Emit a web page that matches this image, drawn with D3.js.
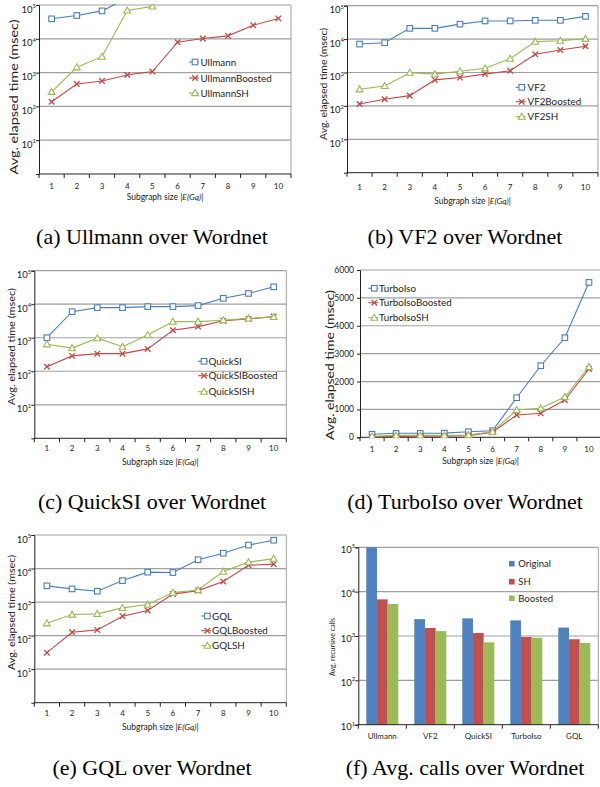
<!DOCTYPE html>
<html>
<head>
<meta charset="utf-8">
<script src="https://cdn.jsdelivr.net/npm/d3@7"></script>
<style>
body { margin: 0; background: #fff; }
text { font-family: Lato, "Open Sans", sans-serif; fill: #222; }
.cap { font-family: "Liberation Serif", serif; fill: #000; }
</style>
</head>
<body>
<script>
var W = 600, H = 787;

// x categories of the line panels
var sizes = [1, 2, 3, 4, 5, 6, 7, 8, 9, 10];

// (a) Ullmann over Wordnet (msec)
var ullmann        = [39000, 49000, 67000, 160000, null, null, null, null, null, null];
var ullmannBoosted = [137, 460, 565, 850, 1070, 7900, 10200, 12200, 25300, 40000];
var ullmannSH      = [270, 1440, 2960, 69000, 91000, null, null, null, null, null];

// (b) VF2 over Wordnet
var vf2        = [7100, 7800, 21000, 21000, 28000, 35000, 35000, 36500, 36500, 48000];
var vf2Boosted = [114, 158, 203, 600, 705, 895, 1130, 3500, 4700, 6100];
var vf2SH      = [315, 395, 985, 895, 1090, 1340, 2600, 8400, 8950, 10200];

// (c) QuickSI over Wordnet
var quickSI        = [1000, 6000, 7900, 7900, 8500, 8500, 9100, 15000, 21000, 33000];
var quickSIBoosted = [137, 287, 335, 335, 465, 1670, 2150, 3230, 3650, 4270];
var quickSISH      = [640, 490, 970, 540, 1210, 3030, 3030, 3330, 3770, 4170];

// (d) TurboIso over Wordnet (linear axis)
var turboIso        = [108, 143, 143, 150, 200, 237, 1420, 2566, 3570, 5555];
var turboIsoBoosted = [20, 30, 35, 40, 60, 180, 800, 860, 1337, 2450];
var turboIsoSH      = [40, 70, 70, 70, 82, 200, 980, 1040, 1445, 2530];

// (e) GQL over Wordnet
var gql        = [3050, 2470, 2110, 4370, 7800, 7600, 18300, 28600, 50000, 70000];
var gqlBoosted = [31, 126, 148, 380, 560, 1730, 2200, 4100, 12600, 13500];
var gqlSH      = [234, 425, 445, 670, 845, 1920, 2290, 8100, 15500, 19800];

// (f) Avg. recursive calls
var algorithms    = ["Ullmann", "VF2", "QuickSI", "TurboIso", "GQL"];
var callsOriginal = [100000, 2400, 2500, 2250, 1550];
var callsSH       = [6700, 1520, 1170, 950, 845];
var callsBoosted  = [5300, 1290, 720, 915, 695];
var barSeries     = ["Original", "SH", "Boosted"];

var logTicks = [10, 100, 1000, 10000, 100000];
var linTicks = [0, 1000, 2000, 3000, 4000, 5000, 6000];

var blue = "#4a7ebb", red = "#be4b48", green = "#98b954";
var gridColor = "#a0a0a0";

var svg = d3.select("body").append("svg")
  .attr("width", W)
  .attr("height", H);

var clipId = 0;

function marker(g, type, color) {
  if (type == "square") {
    g.append("rect").attr("x", -2.8).attr("y", -2.8).attr("width", 5.6).attr("height", 5.6)
      .attr("fill", "#fff").attr("stroke", color).attr("stroke-width", 1.1);
  } else if (type == "cross") {
    g.append("path").attr("d", "M-2.8,-2.8L2.8,2.8M-2.8,2.8L2.8,-2.8")
      .attr("stroke", color).attr("stroke-width", 1.3).attr("fill", "none");
  } else {
    g.append("path").attr("d", "M0,-3.4L3.4,2.6L-3.4,2.6Z")
      .attr("fill", "#fff").attr("stroke", color).attr("stroke-width", 1.1);
  }
}

function logLabel(g, xr, yv, v, base, fs) {
  var t = g.append("text")
    .attr("x", xr).attr("y", yv + base)
    .attr("text-anchor", "end")
    .attr("font-size", fs)
    .text("10");
  t.append("tspan").attr("dy", -4.5).attr("font-size", 6)
    .text(Math.round(Math.log10(v)));
}

function yTitle(g, x, cy, label, fs, len) {
  g.append("text")
    .attr("transform", "translate(" + x + "," + cy + ") rotate(-90)")
    .attr("text-anchor", "middle")
    .attr("dominant-baseline", "middle")
    .attr("font-size", fs)
    .attr("textLength", len)
    .attr("lengthAdjust", "spacingAndGlyphs")
    .text(label);
}

function caption(cx, y, label) {
  svg.append("text").attr("class", "cap")
    .attr("x", cx).attr("y", y)
    .attr("text-anchor", "middle")
    .attr("font-size", 22)
    .text(label);
}

function linePanel(p) {
  var g = svg.append("g");
  var x = d3.scaleBand().domain(sizes).range([p.x0, p.x0 + p.w]);
  var y = p.log
    ? d3.scaleLog().domain([1, 100000]).range([p.y0 + p.h, p.y0])
    : d3.scaleLinear().domain([0, 6000]).range([p.y0 + p.h, p.y0]);
  var ticks = p.log ? logTicks : linTicks;

  // gridlines
  g.selectAll(".grid").data(ticks.filter(function(d){ return d > 0; }))
    .enter().append("line")
    .attr("x1", p.x0).attr("x2", p.x0 + p.w)
    .attr("y1", function(d){ return y(d); })
    .attr("y2", function(d){ return y(d); })
    .attr("stroke", gridColor).attr("stroke-width", 1.2);
  g.append("line")
    .attr("x1", p.x0 + p.w).attr("x2", p.x0 + p.w)
    .attr("y1", p.y0).attr("y2", p.y0 + p.h)
    .attr("stroke", gridColor).attr("stroke-width", 1);

  // y axis
  g.append("g")
    .attr("transform", "translate(" + p.x0 + ",0)")
    .call(d3.axisLeft(y).tickValues(ticks).tickSize(3).tickFormat(""))
    .call(function(a){ a.select(".domain").attr("stroke", "#222"); a.selectAll(".tick line").attr("stroke", "#222"); });

  if (p.log) {
    logTicks.forEach(function(v){ logLabel(g, p.x0 - 3, y(v), v, 7.5, 9.5); });
  } else {
    g.selectAll(".ylab").data(linTicks).enter().append("text")
      .attr("x", p.x0 - 6).attr("y", function(d){ return y(d) + 3; })
      .attr("text-anchor", "end").attr("font-size", 8.5)
      .text(function(d){ return d; });
  }

  // x axis
  var xa = g.append("g").attr("transform", "translate(0," + (p.y0 + p.h) + ")");
  xa.append("line").attr("x1", p.x0).attr("x2", p.x0 + p.w).attr("stroke", "#222");
  xa.selectAll(".tk").data(sizes.concat(["end"])).enter().append("line")
    .attr("x1", function(d){ return d == "end" ? p.x0 + p.w : x(d); })
    .attr("x2", function(d){ return d == "end" ? p.x0 + p.w : x(d); })
    .attr("y1", 0).attr("y2", 4).attr("stroke", "#222");
  g.selectAll(".xlab").data(sizes).enter().append("text")
    .attr("x", function(d){ return x(d) + x.bandwidth() / 2; })
    .attr("y", p.tickY + 3)
    .attr("text-anchor", "middle").attr("font-size", 8)
    .text(function(d){ return d; });

  var xt = g.append("text")
    .attr("x", p.x0 + p.w / 2).attr("y", p.titleY + 3)
    .attr("text-anchor", "middle").attr("font-size", 8.5);
  xt.append("tspan").text("Subgraph size |");
  xt.append("tspan").attr("font-style", "italic").text("E(Gq)");
  xt.append("tspan").text("|");

  yTitle(g, p.yt[0], p.yt[1], "Avg. elapsed time (msec)", p.yt[2], p.yt[3]);

  // series
  clipId++;
  svg.append("clipPath").attr("id", "clip" + clipId).append("rect")
    .attr("x", p.x0 - 4).attr("y", p.y0 - 1).attr("width", p.w + 8).attr("height", p.h + 2);
  var plot = g.append("g").attr("clip-path", "url(#clip" + clipId + ")");

  var line = d3.line()
    .defined(function(d){ return d != null; })
    .x(function(d, i){ return x(sizes[i]) + x.bandwidth() / 2; })
    .y(function(d){ return y(d); });

  p.series.forEach(function(s){
    plot.append("path").datum(s.values)
      .attr("d", line).attr("fill", "none")
      .attr("stroke", s.color).attr("stroke-width", 1.1);
  });
  p.series.forEach(function(s){
    s.values.forEach(function(v, i){
      if (v == null) return;
      var m = plot.append("g")
        .attr("transform", "translate(" + (x(sizes[i]) + x.bandwidth() / 2) + "," + y(v) + ")");
      marker(m, s.marker, s.color);
    });
  });

  // legend
  p.series.forEach(function(s, i){
    var ly = p.legend.rows[i];
    g.append("line")
      .attr("x1", p.legend.mx - 6).attr("x2", p.legend.mx + 4)
      .attr("y1", ly).attr("y2", ly)
      .attr("stroke", s.color).attr("stroke-width", 1.1);
    marker(g.append("g").attr("transform", "translate(" + p.legend.mx + "," + ly + ")"), s.marker, s.color);
    g.append("text")
      .attr("x", p.legend.tx).attr("y", ly + 3.5)
      .attr("font-size", 9.8)
      .text(s.name);
  });
}

function series3(names, a, b, c) {
  return [
    { name: names[0], values: a, color: blue, marker: "square" },
    { name: names[1], values: b, color: red, marker: "cross" },
    { name: names[2], values: c, color: green, marker: "tri" }
  ];
}

linePanel({
  x0: 39, y0: 5, w: 252, h: 169, log: true, tickY: 185.7, titleY: 197.3,
  yt: [15, 97, 11, 155],
  series: series3(["Ullmann", "UllmannBoosted", "UllmannSH"], ullmann, ullmannBoosted, ullmannSH),
  legend: { mx: 195, tx: 200.5, rows: [62, 78, 93] }
});
linePanel({
  x0: 347, y0: 5.7, w: 251, h: 167, log: true, tickY: 186.7, titleY: 201,
  yt: [325, 84, 9, 112],
  series: series3(["VF2", "VF2Boosted", "VF2SH"], vf2, vf2Boosted, vf2SH),
  legend: { mx: 521.7, tx: 527.5, rows: [87.3, 101.7, 116.7] }
});
linePanel({
  x0: 34.3, y0: 270.7, w: 252, h: 167.6, log: true, tickY: 447.7, titleY: 461.7,
  yt: [12.7, 346.7, 9, 117],
  series: series3(["QuickSI", "QuickSIBoosted", "QuickSISH"], quickSI, quickSIBoosted, quickSISH),
  legend: { mx: 204, tx: 208.5, rows: [361.3, 375.7, 391.7] }
});
linePanel({
  x0: 360, y0: 270, w: 241, h: 167.3, log: false, tickY: 449, titleY: 461,
  yt: [331.7, 365, 10.5, 150],
  series: series3(["TurboIso", "TurboIsoBoosted", "TurboIsoSH"], turboIso, turboIsoBoosted, turboIsoSH),
  legend: { mx: 374.3, tx: 379, rows: [288.3, 302.7, 317.7] }
});
linePanel({
  x0: 34.3, y0: 535, w: 252, h: 167.7, log: true, tickY: 713.3, titleY: 726.7,
  yt: [12.7, 612.5, 9, 115],
  series: series3(["GQL", "GQLBoosted", "GQLSH"], gql, gqlBoosted, gqlSH),
  legend: { mx: 207.3, tx: 212, rows: [616, 630.7, 645.7] }
});

// (f) bar chart
(function(){
  var x0 = 358.3, y0 = 547.3, w = 240, h = 177.4;
  var g = svg.append("g");
  var x = d3.scaleBand().domain(algorithms).range([x0, x0 + w])
    .paddingInner(1 / 3).paddingOuter(1 / 6);
  var xs = d3.scaleBand().domain(barSeries).range([0, x.bandwidth()]);
  var y = d3.scaleLog().domain([10, 100000]).range([y0 + h, y0]);
  var values = { Original: callsOriginal, SH: callsSH, Boosted: callsBoosted };
  var colors = { Original: "#4f81bd", SH: "#c0504d", Boosted: "#9bbb59" };

  g.selectAll(".grid").data(logTicks.slice(1)).enter().append("line")
    .attr("x1", x0).attr("x2", x0 + w)
    .attr("y1", function(d){ return y(d); }).attr("y2", function(d){ return y(d); })
    .attr("stroke", gridColor).attr("stroke-width", 1.2);
  g.append("line").attr("x1", x0 + w).attr("x2", x0 + w).attr("y1", y0).attr("y2", y0 + h)
    .attr("stroke", gridColor);

  barSeries.forEach(function(s){
    g.selectAll(".bar" + s).data(algorithms).enter().append("rect")
      .attr("x", function(d){ return x(d) + xs(s); })
      .attr("width", xs.bandwidth())
      .attr("y", function(d, i){ return y(values[s][i]); })
      .attr("height", function(d, i){ return y(10) - y(values[s][i]); })
      .attr("fill", colors[s]);
  });

  g.append("g").attr("transform", "translate(" + x0 + ",0)")
    .call(d3.axisLeft(y).tickValues(logTicks).tickSize(3).tickFormat(""))
    .call(function(a){ a.select(".domain").attr("stroke", "#222"); a.selectAll(".tick line").attr("stroke", "#222"); });
  logTicks.forEach(function(v){ logLabel(g, x0 - 3, y(v), v, 5.5, 9.5); });

  var step = x.step();
  g.append("line").attr("x1", x0).attr("x2", x0 + w).attr("y1", y0 + h).attr("y2", y0 + h).attr("stroke", "#222");
  d3.range(algorithms.length + 1).forEach(function(i){
    g.append("line").attr("x1", x0 + i * step).attr("x2", x0 + i * step)
      .attr("y1", y0 + h).attr("y2", y0 + h + 4).attr("stroke", "#222");
  });
  g.selectAll(".xlab").data(algorithms).enter().append("text")
    .attr("x", function(d){ return x(d) + x.bandwidth() / 2; })
    .attr("y", 738.5).attr("text-anchor", "middle").attr("font-size", 8)
    .text(function(d){ return d; });

  yTitle(g, 333.3, 647, "Avg. recursive calls", 7.5, 58);

  var rows = [563.7, 581.7, 598.3];
  barSeries.forEach(function(s, i){
    g.append("rect").attr("x", 509).attr("y", rows[i] - 2.8).attr("width", 5.6).attr("height", 5.6)
      .attr("fill", colors[s]);
    g.append("text").attr("x", 518.3).attr("y", rows[i] + 3.5).attr("font-size", 9.5).text(s);
  });
})();

caption(152, 243.5, "(a) Ullmann over Wordnet");
caption(465, 243.5, "(b) VF2 over Wordnet");
caption(152, 509, "(c) QuickSI over Wordnet");
caption(465, 509, "(d) TurboIso over Wordnet");
caption(152, 775, "(e) GQL over Wordnet");
caption(465, 775, "(f) Avg. calls over Wordnet");
</script>
</body>
</html>
